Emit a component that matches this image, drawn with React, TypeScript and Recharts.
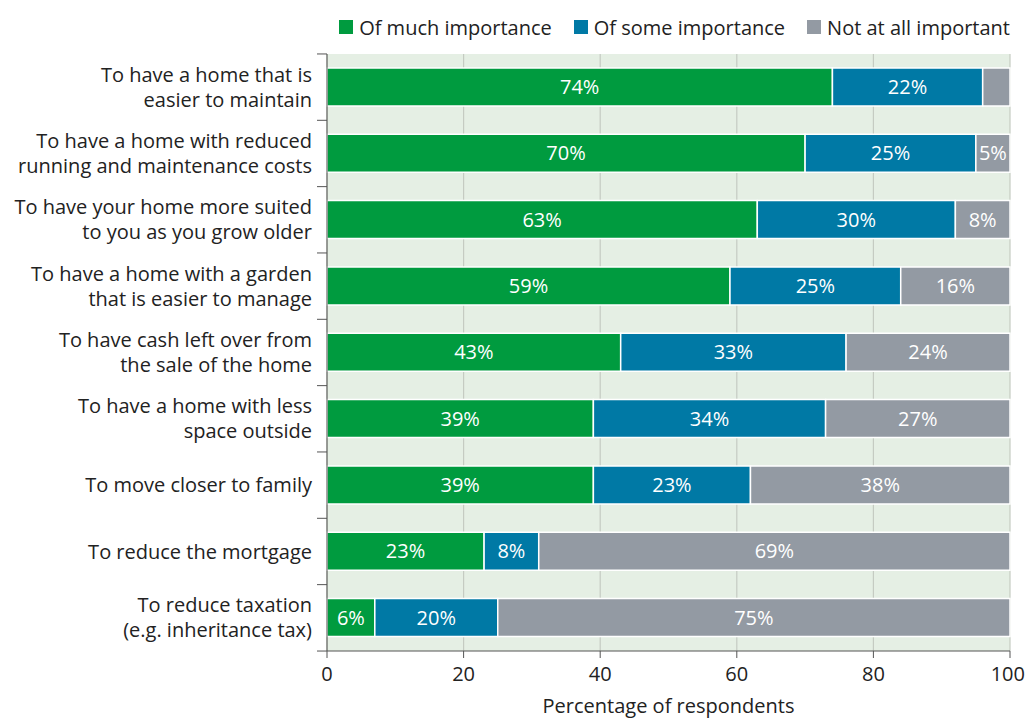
import React from 'react';
import { BarChart, Bar, XAxis, YAxis, CartesianGrid, Legend, LabelList } from 'recharts';

const categories = [
  'To have a home that is\neasier to maintain',
  'To have a home with reduced\nrunning and maintenance costs',
  'To have your home more suited\nto you as you grow older',
  'To have a home with a garden\nthat is easier to manage',
  'To have cash left over from\nthe sale of the home',
  'To have a home with less\nspace outside',
  'To move closer to family',
  'To reduce the mortgage',
  'To reduce taxation\n(e.g. inheritance tax)',
];
const muchValues = [74, 70, 63, 59, 43, 39, 39, 23, 7];
const someValues = [22, 25, 29, 25, 33, 34, 23, 8, 18];
const notValues = [4, 5, 8, 16, 24, 27, 38, 69, 75];
const muchLabels = ['74%', '70%', '63%', '59%', '43%', '39%', '39%', '23%', '6%'];
const someLabels = ['22%', '25%', '30%', '25%', '33%', '34%', '23%', '8%', '20%'];
const notLabels = ['', '5%', '8%', '16%', '24%', '27%', '38%', '69%', '75%'];
const xTicks = [0, 20, 40, 60, 80, 100];
const seriesNames = ['Of much importance', 'Of some importance', 'Not at all important'];

const GREEN = '#009b3f';
const BLUE = '#0079a5';
const GRAY = '#939aa3';
const BG = '#e5efe4';
const FONT = '"Open Sans", Lato, sans-serif';
const TEXT = '#222';
const FS = 20;

const data = categories.map((c, i) => ({
  cat: c,
  much: muchValues[i],
  some: someValues[i],
  not: notValues[i],
  muchLabel: muchLabels[i],
  someLabel: someLabels[i],
  notLabel: notLabels[i],
}));

const HALF_BAND = 33.2;

const YTick = (props: any) => {
  const { x, y, payload, index } = props;
  const lines = String(payload.value).split('\n');
  const lh = 25;
  const start = -((lines.length - 1) * lh) / 2;
  return (
    <g>
      <line x1={x + 5} x2={x + 15} y1={y - HALF_BAND} y2={y - HALF_BAND} stroke="#555" strokeWidth={1} />
      {index === categories.length - 1 && (
        <line x1={x + 5} x2={x + 15} y1={y + HALF_BAND} y2={y + HALF_BAND} stroke="#555" strokeWidth={1} />
      )}
      <text x={x} y={y} textAnchor="end" fill={TEXT} fontSize={FS} fontFamily={FONT}>
        {lines.map((l, i) => (
          <tspan key={i} x={x} y={y + start + i * lh} dy="0.35em">{l}</tspan>
        ))}
      </text>
    </g>
  );
};

const LegendContent = () => {
  const colors = [GREEN, BLUE, GRAY];
  return (
    <div style={{ display: 'flex', justifyContent: 'flex-end', alignItems: 'center', height: 30, fontFamily: FONT, fontSize: FS, color: TEXT }}>
      {seriesNames.map((n, i) => (
        <div key={n} style={{ display: 'flex', alignItems: 'center', marginLeft: i === 0 ? 0 : 22 }}>
          <span style={{ display: 'inline-block', width: 14, height: 14, background: colors[i], marginRight: 6 }} />
          <span>{n}</span>
        </div>
      ))}
    </div>
  );
};

const labelStyle = { fill: '#fff', fontSize: FS, fontFamily: FONT };

export default function App() {
  return (
    <div style={{ position: 'absolute', left: 0, top: 0, width: 1025, height: 720, background: '#fff' }}>
      <BarChart
        width={1025}
        height={720}
        data={data}
        layout="vertical"
        margin={{ top: 24, right: 15, bottom: 9, left: 0 }}
        barCategoryGap="21%"
      >
        <CartesianGrid horizontal={false} stroke="#c5cbc2" strokeWidth={1.2} fill={BG} />
        <XAxis
          type="number"
          domain={[0, 100]}
          ticks={xTicks}
          height={60}
          tickSize={7}
          tickMargin={9}
          tickLine={{ stroke: '#555' }}
          axisLine={{ stroke: '#555' }}
          tick={{ fill: TEXT, fontSize: FS, fontFamily: FONT }}
          label={{ value: 'Percentage of respondents', position: 'insideBottom', offset: -2, fill: TEXT, fontSize: FS, fontFamily: FONT }}
        />
        <YAxis
          type="category"
          dataKey="cat"
          width={327}
          tickSize={0}
          tickMargin={15}
          tickLine={false}
          axisLine={{ stroke: '#555' }}
          tick={<YTick />}
          interval={0}
        />
        <Legend
          verticalAlign="top"
          align="right"
          content={<LegendContent />}
          wrapperStyle={{ top: 12, right: 15 }}
        />
        <Bar dataKey="much" name={seriesNames[0]} stackId="a" fill={GREEN} stroke="#fff" strokeWidth={1.5} isAnimationActive={false}>
          <LabelList dataKey="muchLabel" position="center" style={labelStyle} />
        </Bar>
        <Bar dataKey="some" name={seriesNames[1]} stackId="a" fill={BLUE} stroke="#fff" strokeWidth={1.5} isAnimationActive={false}>
          <LabelList dataKey="someLabel" position="center" style={labelStyle} />
        </Bar>
        <Bar dataKey="not" name={seriesNames[2]} stackId="a" fill={GRAY} stroke="#fff" strokeWidth={1.5} isAnimationActive={false}>
          <LabelList dataKey="notLabel" position="center" style={labelStyle} />
        </Bar>
      </BarChart>
    </div>
  );
}
